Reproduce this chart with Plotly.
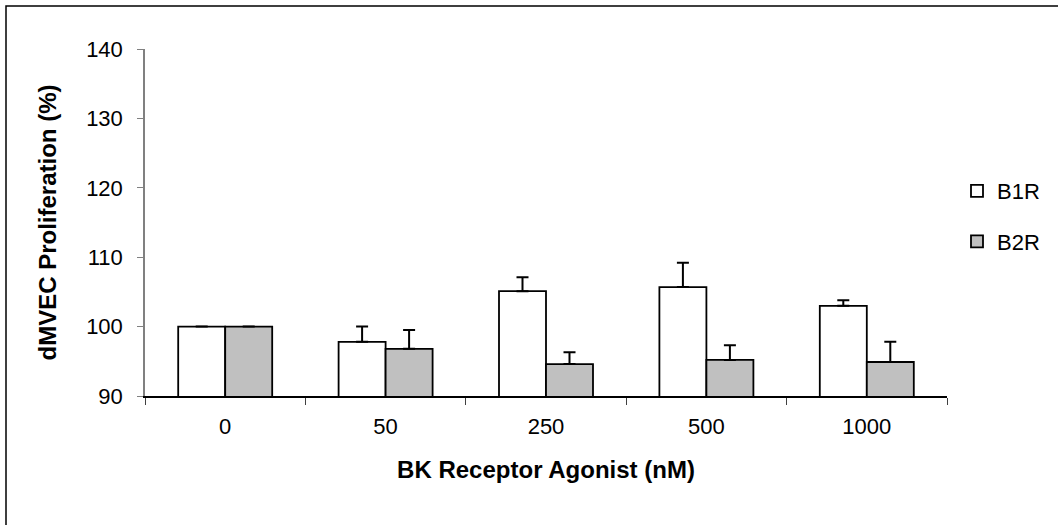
import plotly.graph_objects as go

categories = ["0", "50", "250", "500", "1000"]
b1r_values = [100.0, 97.8, 105.1, 105.7, 103.0]
b1r_errors = [0.0, 2.2, 2.0, 3.5, 0.8]
b2r_values = [100.0, 96.8, 94.6, 95.2, 94.9]
b2r_errors = [0.0, 2.7, 1.7, 2.1, 2.9]
y_ticks = [90, 100, 110, 120, 130, 140]

FONT = "Liberation Sans, Arial, sans-serif"

fig = go.Figure()
fig.add_trace(go.Bar(
    x=categories, y=b1r_values, name="B1R", legendgroup="g1",
    marker=dict(color="white", line=dict(color="black", width=1.8)),
    error_y=dict(type="data", array=b1r_errors, arrayminus=[0] * 5, symmetric=False,
                 color="black", thickness=2, width=6),
))
fig.add_trace(go.Bar(
    x=categories, y=b2r_values, name="B2R", legendgroup="g2",
    marker=dict(color="#C0C0C0", line=dict(color="black", width=1.8)),
    error_y=dict(type="data", array=b2r_errors, arrayminus=[0] * 5, symmetric=False,
                 color="black", thickness=2, width=6),
))

W, H = 1058, 525
L, R, T, B = 145, 111, 49, 129
pw, ph = W - L - R, H - T - B

def px_x(x):
    return (x - L) / pw

def px_y(y):
    return (H - B - y) / ph

fig.update_layout(
    width=W, height=H,
    margin=dict(l=L, r=R, t=T, b=B, autoexpand=False),
    paper_bgcolor="white", plot_bgcolor="white",
    font=dict(family=FONT, size=22, color="black"),
    barmode="group", bargap=0.414, bargroupgap=0,
    showlegend=True,
    legend=dict(x=px_x(957), y=px_y(170), xanchor="left", yanchor="top",
                traceorder="grouped", tracegroupgap=19,
                font=dict(family=FONT, size=22, color="black"),
                bgcolor="rgba(0,0,0,0)", itemwidth=30),
    xaxis=dict(
        type="category", range=[-0.5, 4.5],
        showline=True, linecolor="black", linewidth=1.5,
        ticks="outside", tickson="boundaries", ticklen=7, tickcolor="#404040", tickwidth=1,
        ticklabelstandoff=10,
        tickfont=dict(family=FONT, size=22, color="black"),
        showgrid=False, zeroline=False,
        title=dict(text="<b>BK Receptor Agonist (nM)</b>", standoff=23,
                   font=dict(family=FONT, size=24, color="black")),
    ),
    yaxis=dict(
        range=[90, 140], tickvals=y_ticks,
        showline=True, linecolor="#808080", linewidth=1.5,
        ticks="outside", ticklen=6, tickcolor="#808080", tickwidth=1,
        ticklabelstandoff=10,
        tickfont=dict(family=FONT, size=22, color="black"),
        showgrid=False, zeroline=False,
        title=dict(text="<b>dMVEC Proliferation (%)</b>", standoff=23,
                   font=dict(family=FONT, size=24, color="black")),
    ),
    shapes=[dict(type="rect", xref="paper", yref="paper",
                 x0=px_x(6), x1=px_x(1200), y0=px_y(700), y1=px_y(6),
                 line=dict(color="black", width=1.5), fillcolor="rgba(0,0,0,0)", layer="below")],
)

fig.write_html("out.html",
               config={"displayModeBar": False},
               post_script="document.body.style.margin='0';document.body.style.padding='0';")
